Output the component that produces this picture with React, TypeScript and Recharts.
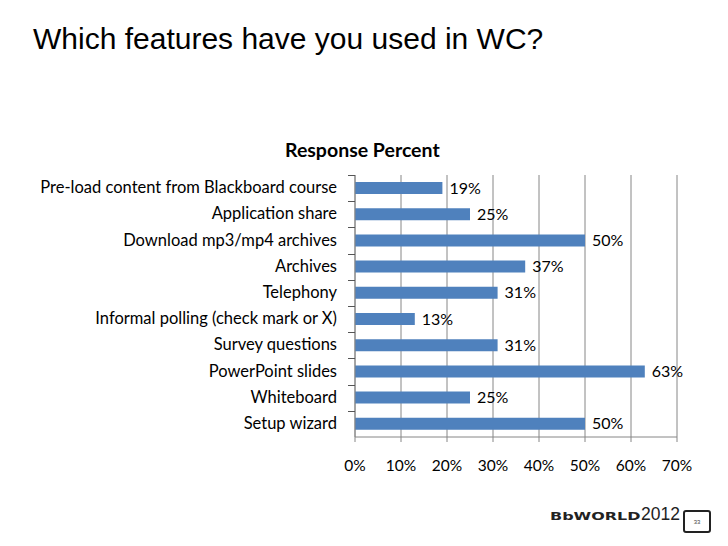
import { BarChart, Bar, XAxis, YAxis, CartesianGrid, LabelList } from 'recharts';

const features = [
  'Pre-load content from Blackboard course',
  'Application share',
  'Download mp3/mp4 archives',
  'Archives',
  'Telephony',
  'Informal polling (check mark or X)',
  'Survey questions',
  'PowerPoint slides',
  'Whiteboard',
  'Setup wizard',
];
const percents = [19, 25, 50, 37, 31, 13, 31, 63, 25, 50];
const xTicks = [0, 10, 20, 30, 40, 50, 60, 70];

const data = features.map((name, i) => ({ name, value: percents[i] }));

const FONT = 'Lato, "Open Sans", sans-serif';
const ARIAL = '"Liberation Sans", Arial, sans-serif';
const PLOT_TOP = 175;
const PLOT_BOTTOM = 437;
const BAND = (PLOT_BOTTOM - PLOT_TOP) / features.length;

// category label plus a small tick at the band boundary (like Excel)
function CategoryTick(props: any) {
  const { x, y, payload } = props;
  const ty = Math.round(y - BAND / 2) + 0.5;
  return (
    <g>
      <path d={`M${x - 1},${ty}H${x + 6}`} stroke="#555" strokeWidth={1} fill="none" />
      <text x={x - 12} y={y} dy={5} textAnchor="end" fontSize={16.5} fill="#000" fontFamily={FONT}>
        {payload.value}
      </text>
    </g>
  );
}

export default function App() {
  return (
    <div style={{ position: 'absolute', left: 0, top: 0, width: 728, height: 546, background: '#fff' }}>
      <div
        style={{
          position: 'absolute',
          left: 33,
          top: 24,
          fontFamily: ARIAL,
          fontSize: 30,
          lineHeight: 1,
          color: '#000',
          whiteSpace: 'nowrap',
        }}
      >
        Which features have you used in WC?
      </div>
      <div
        style={{
          position: 'absolute',
          left: 285,
          top: 140,
          fontFamily: FONT,
          fontWeight: 'bold',
          fontSize: 19.5,
          lineHeight: 1,
          whiteSpace: 'nowrap',
        }}
      >
        Response Percent
      </div>
      <div style={{ position: 'absolute', left: 0, top: 0 }}>
        <BarChart
          width={728}
          height={546}
          data={data}
          layout="vertical"
          barCategoryGap={7}
          margin={{ top: PLOT_TOP, right: 51, bottom: 546 - PLOT_BOTTOM - 40, left: 5 }}
        >
          <CartesianGrid horizontal={false} stroke="#868686" />
          <XAxis
            type="number"
            domain={[0, 70]}
            ticks={xTicks}
            tickFormatter={(v: number) => `${v}%`}
            axisLine={{ stroke: '#868686' }}
            tickLine={{ stroke: '#868686' }}
            tickSize={5}
            tickMargin={18}
            tick={{ fontSize: 15.5, fill: '#000', fontFamily: FONT }}
            height={40}
          />
          <YAxis
            type="category"
            dataKey="name"
            width={350}
            axisLine={{ stroke: '#868686' }}
            tickLine={false}
            tick={<CategoryTick />}
            tickMargin={0}
            interval={0}
          />
          <Bar dataKey="value" fill="#4F81BD" barSize={12} isAnimationActive={false}>
            <LabelList
              dataKey="value"
              position="right"
              offset={7}
              formatter={(v: any) => `${v}%`}
              style={{ fontSize: 16, fill: '#000', fontFamily: FONT }}
            />
          </Bar>
        </BarChart>
      </div>
      {/* footer logo */}
      <div
        style={{
          position: 'absolute',
          left: 550,
          top: 511,
          fontFamily: '"DejaVu Sans", sans-serif',
          fontWeight: 'bold',
          fontSize: 11,
          lineHeight: 1,
          color: '#222',
          transform: 'scaleX(1.45)',
          transformOrigin: 'left top',
          whiteSpace: 'nowrap',
        }}
      >
        BbWORLD
      </div>
      <div
        style={{
          position: 'absolute',
          left: 641,
          top: 506,
          fontFamily: ARIAL,
          fontSize: 17.5,
          lineHeight: 1,
          color: '#222',
        }}
      >
        2012
      </div>
      <div
        style={{
          position: 'absolute',
          left: 683,
          top: 510,
          width: 24,
          height: 19,
          border: '2px solid #222',
          borderRadius: 3,
          fontFamily: ARIAL,
          fontSize: 6,
          color: '#444',
          display: 'flex',
          alignItems: 'center',
          justifyContent: 'center',
        }}
      >
        33
      </div>
    </div>
  );
}
